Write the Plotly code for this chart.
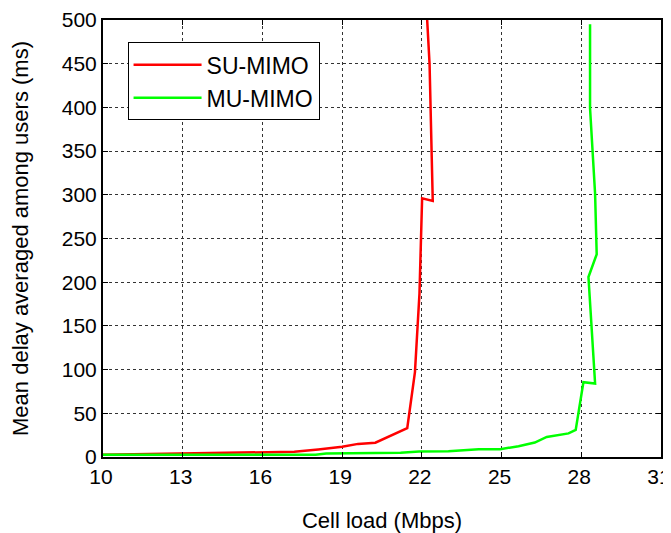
import plotly.graph_objects as go

# Cell load (Mbps) and mean delay (ms)
su_x = [10, 13, 15.4, 17.2, 18.1, 19.0, 19.6, 20.25, 21.45, 21.74, 21.91, 22.01, 22.41, 22.29, 22.2]
su_y = [2.5, 4, 5.5, 6, 8.6, 11.7, 15, 16.3, 33, 97, 187, 296, 293, 450, 500]

mu_x = [10, 18.0, 18.4, 21.2, 21.9, 23.0, 24.14, 24.95, 25.64, 26.25, 26.7, 27.52, 27.79,
        28.08, 28.52, 28.27, 28.58, 28.52, 28.33, 28.33]
mu_y = [2.5, 2.5, 4, 4.8, 6.3, 6.5, 9, 9, 12.3, 16.5, 23, 27, 31,
        85.6, 84, 206, 232, 301, 399, 495]

x_ticks = [10, 13, 16, 19, 22, 25, 28, 31]
y_ticks = [0, 50, 100, 150, 200, 250, 300, 350, 400, 450, 500]

FONT = "Liberation Sans, Arial, sans-serif"

fig = go.Figure()
fig.add_trace(go.Scatter(x=su_x, y=su_y, mode="lines", name="SU-MIMO",
                         line=dict(color="#ff0000", width=2.5)))
fig.add_trace(go.Scatter(x=mu_x, y=mu_y, mode="lines", name="MU-MIMO",
                         line=dict(color="#00ff00", width=2.5)))

axis_common = dict(
    showline=True, linecolor="black", linewidth=2, mirror="ticks",
    ticks="inside", ticklen=5, tickcolor="black", tickwidth=1,
    showgrid=True, gridcolor="#333333", griddash="dot", gridwidth=1,
    zeroline=False, tickfont=dict(size=21, color="black", family=FONT),
    ticklabeloverflow="allow", automargin=False,
)

fig.update_xaxes(range=[10, 31], tickvals=x_ticks, ticklabelshift=-2,
                 title=dict(text="Cell load (Mbps)", font=dict(size=22, color="black", family=FONT), standoff=26),
                 **axis_common)
fig.update_yaxes(range=[0, 500], tickvals=y_ticks,
                 title=dict(text="Mean delay averaged among users (ms)", font=dict(size=22, color="black", family=FONT), standoff=27),
                 **axis_common)

fig.update_layout(
    width=663, height=525,
    margin=dict(l=95, r=10, t=12, b=76, autoexpand=False),
    plot_bgcolor="white", paper_bgcolor="white",
    font=dict(family=FONT, color="black"),
    legend=dict(x=0.044, y=0.949, xanchor="left", yanchor="top",
                bgcolor="white", bordercolor="black", borderwidth=1,
                font=dict(size=23, color="black", family=FONT),
                itemwidth=68, tracegroupgap=4),
    showlegend=True,
)

fig.write_html("out.html")
